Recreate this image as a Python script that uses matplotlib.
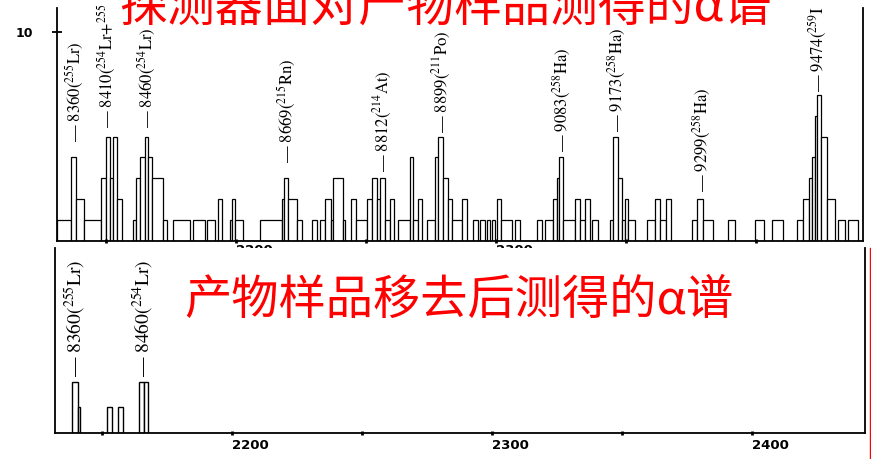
import matplotlib
matplotlib.use("Agg")
import matplotlib.pyplot as plt
import numpy as np
from matplotlib.transforms import ScaledTranslation
from matplotlib.lines import Line2D
from matplotlib.font_manager import FontProperties

plt.rcParams["mathtext.fontset"] = "stix"

# ---------------- data (channels / counts) ----------------
top_edges = [2131.1, 2136.5, 2138.4, 2141.5, 2148.0, 2150.0, 2151.5, 2152.5, 2154.1, 2156.0,
             2160.4, 2161.5, 2163.0, 2164.8, 2166.2, 2167.5, 2171.7, 2173.4, 2175.7, 2182.3,
             2183.4, 2188.0, 2188.8, 2191.9, 2193.0, 2194.6, 2197.7, 2198.4, 2199.6, 2202.7,
             2209.2, 2217.7, 2218.4, 2220.0, 2223.4, 2225.4, 2229.2, 2231.1, 2232.3, 2234.2,
             2236.5, 2237.3, 2241.1, 2241.9, 2244.2, 2246.1, 2250.4, 2252.3, 2254.2, 2255.4,
             2257.3, 2259.2, 2260.7, 2262.3, 2266.9, 2268.0, 2270.0, 2271.5, 2273.4, 2276.5,
             2277.7, 2279.6, 2281.5, 2283.0, 2286.9, 2288.8, 2291.1, 2293.0, 2293.8, 2295.7,
             2296.5, 2297.7, 2298.4, 2299.6, 2300.4, 2301.9, 2306.1, 2307.3, 2309.2, 2315.7,
             2317.7, 2318.8, 2321.9, 2323.4, 2324.2, 2325.7, 2330.4, 2332.3, 2334.2, 2336.1,
             2336.9, 2339.2, 2343.8, 2345.0, 2346.9, 2348.4, 2349.6, 2350.7, 2353.4, 2358.0,
             2361.1, 2363.0, 2365.4, 2367.3, 2375.4, 2377.3, 2379.6, 2383.4, 2389.2, 2391.9,
             2399.6, 2403.0, 2406.1, 2410.4, 2415.7, 2418.0, 2420.4, 2421.5, 2422.7, 2423.4,
             2425.0, 2427.3, 2430.4, 2431.5, 2434.2, 2435.4, 2439.2, 2441.1]
top_counts = [1, 4, 2, 1, 3, 5, 3, 5, 2, 0,
              1, 3, 4, 5, 4, 3, 1, 0, 1, 0,
              1, 0, 1, 0, 2, 0, 1, 2, 1, 0,
              1, 2, 3, 2, 1, 0, 1, 0, 1, 2,
              1, 3, 1, 0, 2, 1, 2, 3, 2, 3,
              1, 2, 0, 1, 4, 1, 2, 0, 1, 4,
              5, 3, 2, 1, 2, 0, 1, 0, 1, 0,
              1, 0, 1, 0, 2, 1, 0, 1, 0, 1,
              0, 1, 2, 3, 4, 1, 2, 1, 2, 0,
              1, 0, 1, 5, 3, 1, 2, 1, 0, 1,
              2, 1, 2, 0, 1, 2, 1, 0, 1, 0,
              1, 0, 1, 0, 1, 2, 3, 4, 6, 7,
              5, 2, 0, 1, 0, 1, 0]

top_labels = ["8360($^{255}$Lr)", "8410($^{254}$Lr+$^{255}$", "8460($^{254}$Lr)",
              "8669($^{215}$Rn)", "8812($^{214}$At)", "8899($^{211}$Po)",
              "9083($^{258}$Ha)", "9173($^{258}$Ha)", "9299($^{258}$Ha)", "9474($^{259}$I"]
top_label_ch = [2138.0, 2150.4, 2165.7, 2219.6, 2256.5, 2279.2, 2325.4, 2346.5, 2379.2, 2423.8]
top_label_y = [4.74, 5.41, 5.41, 3.73, 3.30, 5.17, 4.26, 5.22, 2.34, 7.13]

bot_left = [2138.6, 2140.9, 2152.0, 2156.0, 2164.4, 2166.0]
bot_right = [2140.9, 2141.5, 2153.7, 2158.2, 2166.0, 2167.8]
bot_counts = [2, 1, 1, 1, 2, 2]

bot_labels = ["8360($^{255}$Lr)", "8460($^{254}$Lr)"]
bot_label_ch = [2139.6, 2165.9]
bot_label_y = [2.2, 2.2]

x_ticks = [2150, 2200, 2250, 2300, 2350, 2400]
top_xtick_labels = ["", "2200", "", "2300", "", ""]
bot_xtick_labels = ["", "2200", "", "2300", "", "2400"]
top_yticks = [10]

title_top = "探测器面对产物样品测得的α谱"
title_bot = "产物样品移去后测得的α谱"

# ---------------- figure ----------------
W, H = 871, 459
fig = plt.figure(figsize=(W / 100, H / 100), dpi=100)


def px_axes(l, t, r, b):
    return fig.add_axes([l / W, 1 - b / H, (r - l) / W, (b - t) / H])


tick_fp = FontProperties(family="DejaVu Sans", weight="bold", size=9.5)


def style_axes(ax, labels):
    ax.spines["top"].set_visible(False)
    for s in ("left", "right", "bottom"):
        ax.spines[s].set_linewidth(1.3)
    ax.set_xticks(x_ticks, labels)
    ax.tick_params(axis="x", direction="inout", length=3, width=2)
    for t in ax.xaxis.get_major_ticks():
        t.label1.set_horizontalalignment("left")
        t.label1.set_transform(t.label1.get_transform() + ScaledTranslation(0.07, 0, fig.dpi_scale_trans))
        t.label1.set_fontproperties(tick_fp)


# top panel
ax1 = px_axes(57, 8, 863, 241)
edges = np.array(top_edges)
ax1.bar(edges[:-1], top_counts, width=np.diff(edges), align="edge",
        facecolor="white", edgecolor="black", linewidth=0.9)
ax1.set_xlim(top_edges[0], top_edges[-1])
ax1.set_ylim(0, 11.15)
style_axes(ax1, top_xtick_labels)
ax1.tick_params(axis="x", pad=1)
ax1.set_yticks(top_yticks, ["10"])
ax1.tick_params(axis="y", direction="inout", length=7, width=1.3, pad=14)
for lbl in ax1.get_yticklabels():
    lbl.set_fontweight("bold")
    lbl.set_fontsize(9)
for ch, y, s in zip(top_label_ch, top_label_y, top_labels):
    ax1.text(ch, y, "— " + s, rotation=90, ha="center", va="bottom",
             fontsize=12, family="STIXGeneral")

# bottom panel
ax2 = px_axes(55, 248, 865, 433)
ax2.bar(bot_left, bot_counts, width=np.array(bot_right) - np.array(bot_left), align="edge",
        facecolor="white", edgecolor="black", linewidth=1.0)
ax2.set_xlim(2131.9, 2443.5)
ax2.set_ylim(0, 7.25)
style_axes(ax2, bot_xtick_labels)
ax2.tick_params(axis="x", pad=3)
ax2.set_yticks([])
for ch, y, s in zip(bot_label_ch, bot_label_y, bot_labels):
    ax2.text(ch, y, "— " + s, rotation=90, ha="center", va="bottom",
             fontsize=14, family="STIXGeneral")

# titles
fig.text(445 / W, 1 - 8 / H, title_top, ha="center", va="center", fontsize=34.5,
         color="red", family=["Noto Sans CJK SC", "DejaVu Sans"])
fig.text(459 / W, 1 - 301 / H, title_bot, ha="center", va="center", fontsize=34,
         color="red", family=["Noto Sans CJK SC", "DejaVu Sans"])

fig.add_artist(Line2D([869.5 / W, 869.5 / W], [0, 1 - 248 / H], color="red", lw=1.0))

fig.savefig("out.png", dpi=100)
